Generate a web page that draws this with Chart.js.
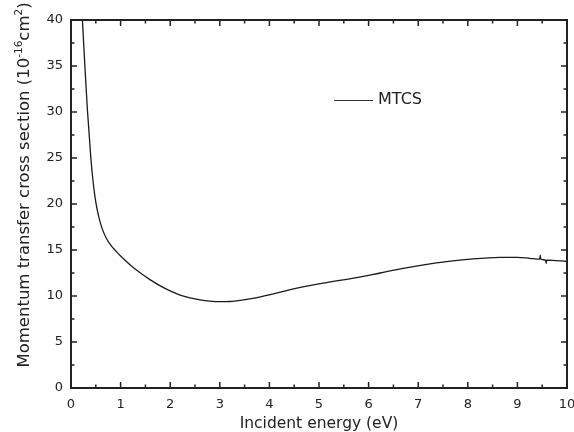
<!DOCTYPE html>
<html>
<head>
<meta charset="utf-8">
<script src="https://cdn.jsdelivr.net/npm/chart.js@4/dist/chart.umd.min.js"></script>
<style>
  html, body { margin: 0; padding: 0; background: #fff; }
  #wrap { width: 574px; height: 432px; position: relative; }
</style>
</head>
<body>
<div id="wrap"><canvas id="c" width="574" height="432"></canvas></div>
<script>
// Data
const energy = [0.23, 0.28, 0.33, 0.40, 0.45, 0.50, 0.56, 0.63, 0.72, 0.82, 0.92, 1.0, 1.2, 1.4, 1.6, 1.8, 2.0, 2.2, 2.4, 2.6, 2.8, 3.0, 3.2, 3.45, 3.75, 4.1, 4.42, 5.09, 5.76, 6.23, 6.70, 7.37, 8.04, 8.65, 9.0, 9.25, 9.45, 9.46, 9.47, 9.57, 9.58, 9.59, 10.0];
const mtcs   = [40.0, 35.0, 30.3, 25.0, 22.2, 20.2, 18.6, 17.3, 16.2, 15.4, 14.8, 14.35, 13.35, 12.5, 11.75, 11.1, 10.55, 10.1, 9.8, 9.58, 9.44, 9.38, 9.4, 9.55, 9.82, 10.25, 10.7, 11.4, 12.0, 12.5, 13.0, 13.6, 14.0, 14.2, 14.2, 14.1, 14.0, 14.45, 14.0, 13.9, 13.55, 13.9, 13.75];
const seriesName = 'MTCS';
const xTitle = 'Incident energy (eV)';
const yTitleParts = [
  { t: 'Momentum transfer cross section (10', sup: false },
  { t: '-16', sup: true },
  { t: 'cm', sup: false },
  { t: '2', sup: true },
  { t: ')', sup: false }
];
const xRange = [0, 10];
const yRange = [0, 40];

const FONT = '"DejaVu Sans", Arial, sans-serif';
const INK = '#222222';

const framePlugin = {
  id: 'frame',
  afterDraw(chart) {
    const ctx = chart.ctx;
    const a = chart.chartArea;
    const xs = chart.scales.x, ys = chart.scales.y;
    ctx.save();
    ctx.strokeStyle = INK;
    ctx.lineWidth = 2;
    ctx.strokeRect(a.left, a.top, a.right - a.left, a.bottom - a.top);
    ctx.lineWidth = 1.5;
    const xt = xs.ticks.map(t => t.value);
    const yt = ys.ticks.map(t => t.value);
    function xTick(v, len) {
      const p = xs.getPixelForValue(v);
      ctx.beginPath();
      ctx.moveTo(p, a.bottom); ctx.lineTo(p, a.bottom - len);
      ctx.moveTo(p, a.top); ctx.lineTo(p, a.top + len);
      ctx.stroke();
    }
    function yTick(v, len) {
      const p = ys.getPixelForValue(v);
      ctx.beginPath();
      ctx.moveTo(a.left, p); ctx.lineTo(a.left + len, p);
      ctx.moveTo(a.right, p); ctx.lineTo(a.right - len, p);
      ctx.stroke();
    }
    xt.forEach((v, i) => { xTick(v, 6); if (i < xt.length - 1) xTick((v + xt[i + 1]) / 2, 3.5); });
    yt.forEach((v, i) => { yTick(v, 6); if (i < yt.length - 1) yTick((v + yt[i + 1]) / 2, 3.5); });

    // legend
    ctx.strokeStyle = '#333';
    ctx.lineWidth = 1.2;
    ctx.beginPath();
    ctx.moveTo(334, 100.5); ctx.lineTo(373, 100.5);
    ctx.stroke();
    ctx.fillStyle = INK;
    ctx.font = '16px ' + FONT;
    ctx.textBaseline = 'middle';
    ctx.textAlign = 'left';
    ctx.fillText(seriesName, 378, 100);

    // x title
    ctx.font = '15.5px ' + FONT;
    ctx.textAlign = 'center';
    ctx.textBaseline = 'alphabetic';
    ctx.fillText(xTitle, (a.left + a.right) / 2, 428);

    // y title (rotated, with superscripts)
    const mainF = '16.5px ' + FONT, supF = '10.5px ' + FONT;
    let total = 0;
    yTitleParts.forEach(p => { ctx.font = p.sup ? supF : mainF; total += ctx.measureText(p.t).width; });
    ctx.translate(28.5, 185);
    ctx.rotate(-Math.PI / 2);
    ctx.textAlign = 'left';
    let u = -total / 2;
    yTitleParts.forEach(p => {
      ctx.font = p.sup ? supF : mainF;
      ctx.fillText(p.t, u, p.sup ? -7 : 0);
      u += ctx.measureText(p.t).width;
    });
    ctx.restore();
  }
};

new Chart(document.getElementById('c'), {
  type: 'line',
  data: {
    datasets: [{
      label: seriesName,
      data: energy.map((x, i) => ({ x: x, y: mtcs[i] })),
      borderColor: '#1a1a1a',
      borderWidth: 1.3,
      pointRadius: 0,
      fill: false,
      cubicInterpolationMode: 'monotone'
    }]
  },
  options: {
    responsive: false,
    animation: false,
    devicePixelRatio: 1,
    layout: { padding: { left: 0, right: 7, top: 20, bottom: 0 } },
    plugins: { legend: { display: false }, tooltip: { enabled: false } },
    scales: {
      x: {
        type: 'linear',
        min: xRange[0], max: xRange[1],
        grid: { display: false, drawTicks: false },
        border: { display: false },
        ticks: { stepSize: 1, color: INK, font: { family: FONT, size: 13 }, padding: 9, maxRotation: 0 },
        afterFit(s) { s.height = 44; s.paddingLeft = 0; s.paddingRight = 0; }
      },
      y: {
        type: 'linear',
        min: yRange[0], max: yRange[1],
        grid: { display: false, drawTicks: false },
        border: { display: false },
        ticks: { stepSize: 5, color: INK, font: { family: FONT, size: 13 }, padding: 8 },
        afterFit(s) { s.width = 71; s.paddingTop = 0; s.paddingBottom = 0; }
      }
    }
  },
  plugins: [framePlugin]
});
</script>
</body>
</html>
